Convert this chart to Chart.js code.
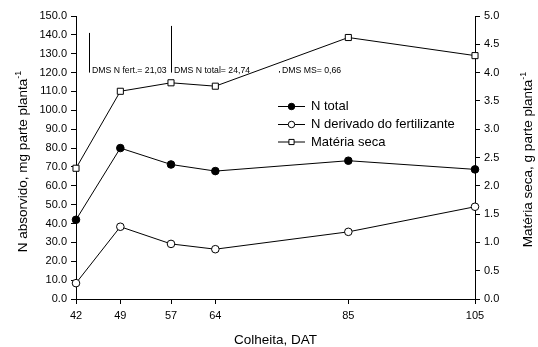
<!DOCTYPE html>
<html>
<head>
<meta charset="utf-8">
<script src="https://cdn.jsdelivr.net/npm/chart.js@4.4.0/dist/chart.umd.min.js"></script>
<style>
  html, body { margin: 0; padding: 0; background: #fff; }
  canvas { display: block; }
</style>
</head>
<body>
<canvas id="c" width="538" height="347"></canvas>
<script>
// Harvest dates (days after transplanting)
const days = [42, 49, 57, 64, 85, 105];
// N absorbed, mg per plant part
const nTotal = [42.0, 80.0, 71.3, 67.8, 73.3, 68.7];
const nFert = [8.4, 38.3, 29.2, 26.4, 35.6, 48.9];
// Dry matter, g per plant part (right axis)
const materiaSeca = [2.31, 3.67, 3.82, 3.76, 4.62, 4.30];

// Least significant difference bars, standing on a common base
const dmsX = [44, 57, 74];
const dmsBase = 120;
const dmsValues = [21.03, 24.74, 0.66];
const dmsLabels = ['DMS N fert.= 21,03', 'DMS N total= 24,74', 'DMS MS= 0,66'];

const leftTicksMax = 150;
const rightTicksMax = 5;

const FONT = 'Arial, "Liberation Sans", Helvetica, sans-serif';

const toXY = (ys) => days.map((d, i) => ({ x: d, y: ys[i] }));

const series = [
  { label: 'N total', data: toXY(nTotal), yAxisID: 'y',
    pointStyle: 'circle', pointRadius: 3.8, pointBackgroundColor: '#000' },
  { label: 'N derivado do fertilizante', data: toXY(nFert), yAxisID: 'y',
    pointStyle: 'circle', pointRadius: 3.8, pointBackgroundColor: '#fff' },
  { label: 'Matéria seca', data: toXY(materiaSeca), yAxisID: 'y1',
    pointStyle: 'rect', pointRadius: 4.3, pointBackgroundColor: '#fff' }
];

function drawTitle(ctx, x, y, rotate, main, sup) {
  ctx.save();
  ctx.fillStyle = '#000';
  ctx.textBaseline = 'alphabetic';
  ctx.textAlign = 'left';
  ctx.font = '13.5px ' + FONT;
  const mw = ctx.measureText(main).width;
  ctx.font = '9px ' + FONT;
  const sw = sup ? ctx.measureText(sup).width : 0;
  const total = mw + sw;
  ctx.translate(x, y);
  if (rotate) ctx.rotate(-Math.PI / 2);
  ctx.font = '13.5px ' + FONT;
  ctx.fillText(main, -total / 2, 0);
  if (sup) {
    ctx.font = '9px ' + FONT;
    ctx.fillText(sup, -total / 2 + mw, -6);
  }
  ctx.restore();
}

const extras = {
  id: 'extras',
  afterDraw(chart) {
    const { ctx, scales, chartArea } = chart;
    const xs = scales.x, ys = scales.y;

    // DMS bars and their labels
    ctx.save();
    ctx.strokeStyle = '#000';
    ctx.lineWidth = 1;
    ctx.fillStyle = '#000';
    ctx.font = '8.7px ' + FONT;
    ctx.textBaseline = 'alphabetic';
    dmsX.forEach((dx, i) => {
      const px = Math.round(xs.getPixelForValue(dx)) + 0.5;
      const y0 = ys.getPixelForValue(dmsBase);
      const y1 = ys.getPixelForValue(dmsBase + dmsValues[i]);
      ctx.beginPath();
      ctx.moveTo(px, y0);
      ctx.lineTo(px, Math.min(y1, y0 - 1.5));
      ctx.stroke();
      ctx.fillText(dmsLabels[i], px + 2.5, y0 + 0.5);
    });
    ctx.restore();

    // Legend: line sample with the series marker
    const lx0 = 278, lx1 = 305, ltx = 311;
    const rows = [106, 124, 141.5];
    ctx.save();
    chart.data.datasets.forEach((ds, i) => {
      const yy = rows[i];
      ctx.strokeStyle = '#000';
      ctx.lineWidth = 1;
      ctx.beginPath();
      ctx.moveTo(lx0, yy + 0.5);
      ctx.lineTo(lx1, yy + 0.5);
      ctx.stroke();
      ctx.fillStyle = ds.pointBackgroundColor;
      Chart.helpers.drawPoint(ctx, {
        pointStyle: ds.pointStyle, radius: ds.pointRadius * 0.85, rotation: 0, borderWidth: 1
      }, (lx0 + lx1) / 2, yy + 0.5);
      ctx.fillStyle = '#000';
      ctx.font = '13px ' + FONT;
      ctx.textBaseline = 'middle';
      ctx.fillText(ds.label, ltx, yy + 0.5);
    });
    ctx.restore();

    // Axis titles
    const cy = (chartArea.top + chartArea.bottom) / 2;
    drawTitle(ctx, 27, cy + 4, true, 'N absorvido, mg parte planta', '-1');
    drawTitle(ctx, 531.5, cy + 2, true, 'Matéria seca, g parte planta', '-1');
    drawTitle(ctx, (chartArea.left + chartArea.right) / 2, 343.5, false, 'Colheita, DAT', '');
  }
};

const axisCommon = {
  grid: { drawOnChartArea: false, drawTicks: true, tickLength: 5, tickColor: '#000', tickWidth: 1 },
  border: { display: true, color: '#000', width: 1 },
};

new Chart(document.getElementById('c'), {
  type: 'line',
  data: {
    datasets: series.map(s => ({
      ...s,
      borderColor: '#000',
      borderWidth: 1,
      pointBorderColor: '#000',
      pointBorderWidth: 1,
      tension: 0,
      fill: false,
      clip: false
    }))
  },
  options: {
    responsive: false,
    animation: false,
    layout: { padding: { top: 16, left: 0, right: 0, bottom: 0 } },
    plugins: { legend: { display: false }, tooltip: { enabled: false } },
    scales: {
      x: {
        type: 'linear', min: days[0], max: days[days.length - 1],
        ...axisCommon,
        afterBuildTicks: (sc) => { sc.ticks = days.map(v => ({ value: v })); },
        afterFit: (sc) => { sc.height = 48; },
        ticks: { color: '#000', font: { size: 11, family: FONT }, padding: 5, maxRotation: 0, autoSkip: false }
      },
      y: {
        type: 'linear', position: 'left', min: 0, max: leftTicksMax,
        ...axisCommon,
        afterFit: (sc) => { sc.width = 76; },
        ticks: { stepSize: 10, color: '#000', font: { size: 11, family: FONT }, padding: 4,
                 callback: (v) => v.toFixed(1) }
      },
      y1: {
        type: 'linear', position: 'right', min: 0, max: rightTicksMax,
        ...axisCommon,
        afterFit: (sc) => { sc.width = 63; },
        ticks: { stepSize: 0.5, color: '#000', font: { size: 11, family: FONT }, padding: 4,
                 callback: (v) => v.toFixed(1) }
      }
    }
  },
  plugins: [extras]
});
</script>
</body>
</html>
